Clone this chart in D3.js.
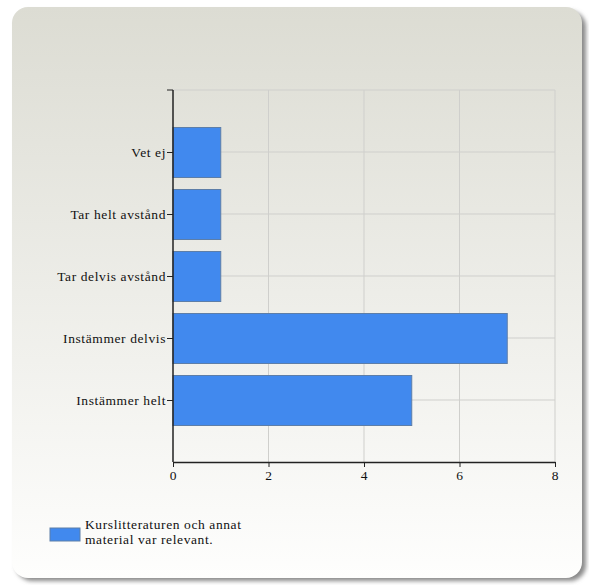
<!DOCTYPE html>
<html><head><meta charset="utf-8">
<script src="https://cdn.jsdelivr.net/npm/d3@7"></script>
<style>body{margin:0;background:#fff;}svg{display:block;}
svg text{font-family:"Liberation Serif","DejaVu Serif",serif !important;letter-spacing:0.6px;}</style>
</head><body>
<script>
const categories = ["Vet ej","Tar helt avstånd","Tar delvis avstånd","Instämmer delvis","Instämmer helt"];
const values = [1,1,1,7,5];
const xTicks = [0,2,4,6,8];
const legendLines = ["Kurslitteraturen och annat","material var relevant."];

const W=589,H=585;
const svg=d3.select("body").append("svg").attr("width",W).attr("height",H);
const defs=svg.append("defs");
const g1=defs.append("linearGradient").attr("id","bg").attr("x1",0).attr("y1",0).attr("x2",0).attr("y2",1);
g1.append("stop").attr("offset","0%").attr("stop-color","#dcdcd3");
g1.append("stop").attr("offset","100%").attr("stop-color","#fefefd");
const f=defs.append("filter").attr("id","blur").attr("x","-5%").attr("y","-5%").attr("width","110%").attr("height","110%");
f.append("feGaussianBlur").attr("stdDeviation",2);

svg.append("rect").attr("x",16).attr("y",11).attr("width",570).attr("height",570).attr("rx",16)
  .attr("fill","#8a8a8a").attr("filter","url(#blur)");
svg.append("rect").attr("x",12).attr("y",7).attr("width",570).attr("height",571).attr("rx",16)
  .attr("fill","url(#bg)");

const L=173,R=555,T=90,B=462;
const x=d3.scaleLinear().domain([0,8]).range([L,R]);
const y=d3.scalePoint().domain(categories).range([T,B]).padding(1);
const bh=50;

const grid=svg.append("g");
grid.selectAll(".v").data(xTicks.slice(1)).join("line")
  .attr("x1",d=>x(d)).attr("x2",d=>x(d)).attr("y1",T).attr("y2",B).attr("stroke","#cfcfcc");
grid.selectAll(".h").data(categories).join("line")
  .attr("x1",L).attr("x2",R).attr("y1",d=>y(d)).attr("y2",d=>y(d)).attr("stroke","#cfcfcc");
grid.append("line").attr("x1",L).attr("x2",R).attr("y1",T).attr("y2",T).attr("stroke","#cfcfcc");

svg.selectAll(".bar").data(categories).join("rect")
  .attr("x",L).attr("y",d=>y(d)-bh/2+0.5)
  .attr("width",(d,i)=>x(values[i])-L).attr("height",bh)
  .attr("fill","#4189ee").attr("stroke","#5d7ea8").attr("stroke-width",1);

const fs=13.5;
const ya=svg.append("g").attr("transform",`translate(${L},0)`)
  .call(d3.axisLeft(y).tickSize(6).tickSizeOuter(0).tickPadding(1));
ya.select(".domain").remove();
ya.append("line").attr("x1",0).attr("x2",0).attr("y1",T).attr("y2",B).attr("stroke","#222").attr("stroke-width",1.5);
ya.append("line").attr("x1",-6).attr("x2",0).attr("y1",T).attr("y2",T).attr("stroke","#222");
ya.selectAll("text").attr("font-size",fs).attr("fill","#111");
ya.selectAll(".tick line").attr("stroke","#222");

const xa=svg.append("g").attr("transform",`translate(0,${B})`)
  .call(d3.axisBottom(x).tickValues(xTicks).tickSize(5).tickSizeOuter(0).tickPadding(3));
xa.select(".domain").attr("stroke","#222").attr("stroke-width",1.5);
xa.selectAll("text").attr("font-size",fs).attr("fill","#111");
xa.selectAll(".tick line").attr("stroke","#222");

svg.append("rect").attr("x",50).attr("y",528).attr("width",30).attr("height",13)
  .attr("fill","#4189ee").attr("stroke","#5d7ea8");
svg.append("text").attr("x",85).attr("y",529).attr("font-size",fs).attr("fill","#111")
  .selectAll("tspan").data(legendLines).join("tspan").attr("x",85).attr("dy",(d,i)=>i?15:0).text(d=>d);
</script>
</body></html>
